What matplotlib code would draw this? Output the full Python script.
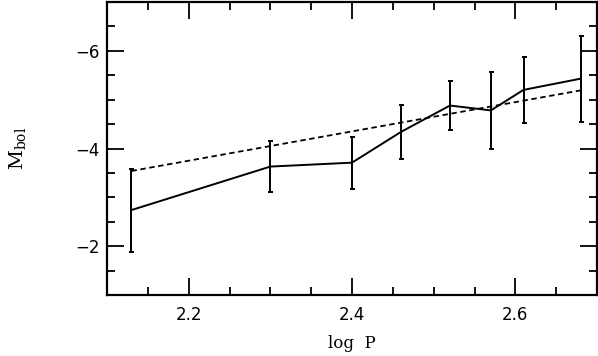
import matplotlib
matplotlib.use("Agg")
import matplotlib.pyplot as plt
from matplotlib.ticker import MultipleLocator
import numpy as np

# Data
log_p = [2.13, 2.30, 2.40, 2.46, 2.52, 2.57, 2.61, 2.68]
m_bol = [-2.74, -3.63, -3.71, -4.34, -4.88, -4.78, -5.20, -5.43]
m_err = [0.85, 0.52, 0.53, 0.55, 0.50, 0.78, 0.67, 0.88]

# Linear relation (dashed)
fit_slope = -3.0
fit_intercept = 2.85

x_ticks = [2.2, 2.4, 2.6]
y_ticks = [-2, -4, -6]

plt.rcParams['mathtext.fontset'] = 'dejavuserif'

fig = plt.figure(figsize=(5.98, 3.56), dpi=100)
ax = fig.add_axes([107/598, 1 - 295/356, (597-107)/598, (295-2)/356])

ax.errorbar(log_p, m_bol, yerr=m_err, color='black', lw=1.4,
            elinewidth=1.4, capsize=1.8, capthick=1.4)
xf = np.array([log_p[0], log_p[-1]])
ax.plot(xf, fit_slope * xf + fit_intercept, color='black', lw=1.3,
        linestyle=(0, (3, 2)))

ax.set_xlim(2.1, 2.7)
ax.set_ylim(-1, -7)
ax.set_xticks(x_ticks)
ax.set_yticks(y_ticks)
ax.set_xticklabels([f"{v:.1f}" for v in x_ticks])
ax.set_yticklabels([f"\u2212{abs(v)}" for v in y_ticks])
ax.xaxis.set_minor_locator(MultipleLocator(0.05))
ax.yaxis.set_minor_locator(MultipleLocator(0.5))
ax.tick_params(which='both', direction='in', top=True, right=True, width=1.3)
ax.tick_params(which='major', length=12, labelsize=12)
ax.tick_params(axis='y', which='major', pad=5)
ax.tick_params(axis='x', which='major', pad=8)
ax.tick_params(which='minor', length=6)
for s in ax.spines.values():
    s.set_linewidth(1.6)

ax.set_xlabel("log  P", family='DejaVu Serif', fontsize=12, labelpad=8)
ax.set_ylabel(r"$\mathrm{M_{bol}}$", fontsize=14, labelpad=34)

fig.savefig("out.png", dpi=100)
